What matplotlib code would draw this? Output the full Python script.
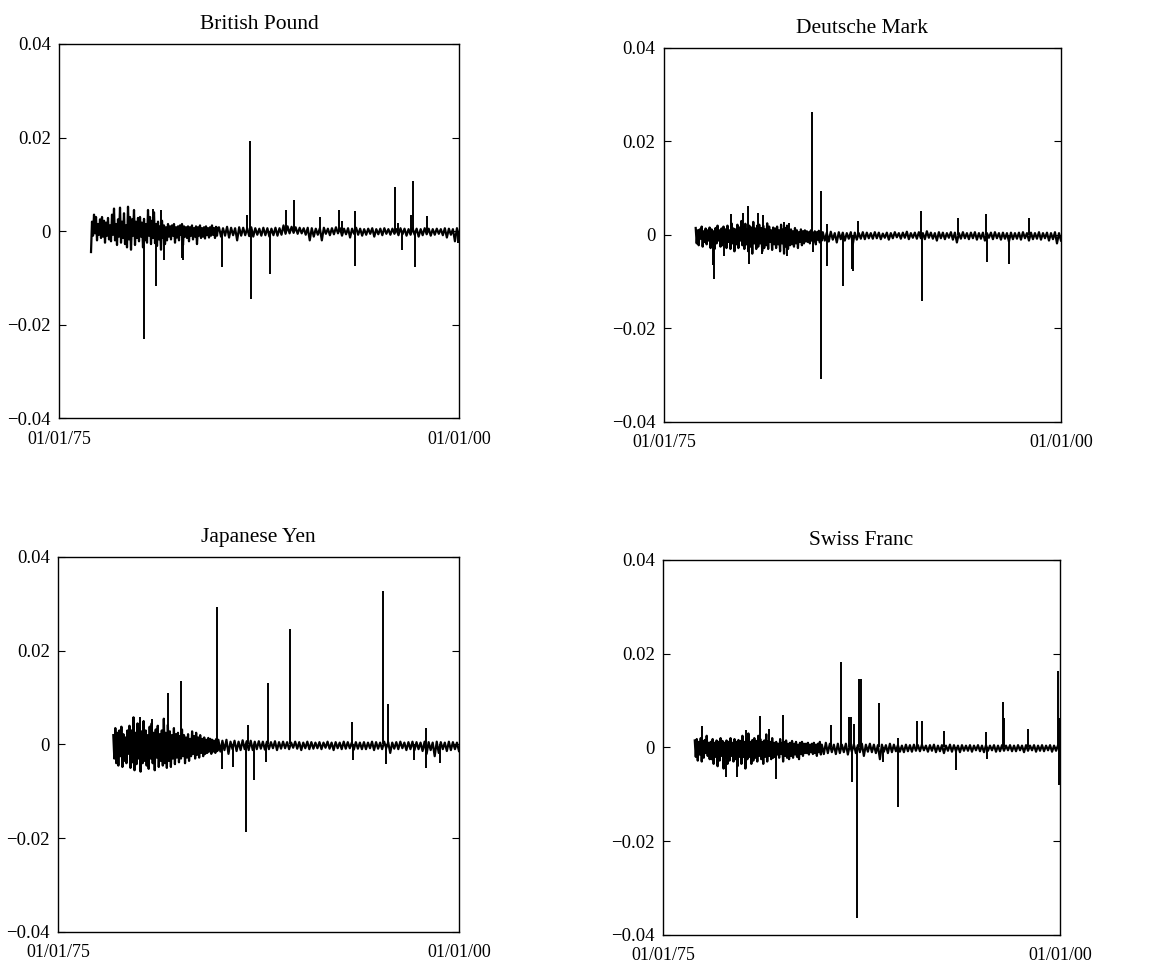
import numpy as np
import matplotlib.pyplot as plt

plt.rcParams['font.family'] = ['Liberation Serif', 'DejaVu Serif']

titles = ["British Pound", "Deutsche Mark", "Japanese Yen", "Swiss Franc"]
x_first = [1977.0, 1977.0, 1978.45, 1977.0]
x_split = 1985.0   # readings are denser before this date
x_last = 2000.0
x_ticks = [1975.0, 2000.0]
x_ticklabels = ["01/01/75", "01/01/00"]
y_ticks = [-0.04, -0.02, 0.0, 0.02, 0.04]
y_ticklabels = ["\u22120.04", "\u22120.02", "0", "0.02", "0.04"]

# returns band, units of 1e-4, evenly spaced in time
gbp_early = """
-45 20 -10 35 -5 30 -20 15 -8 25 -15 30 -12 22 -25 18
-10 28 -18 12 -22 35 -8 48 -20 15 -30 25 -12 50 -25 20
-15 38 -28 12 -35 52 -18 30 -40 25 -10 45 -30 20 -15 28
-22 30 -12 18 -35 26 -20 15 -25 45 -10 30 -28 22 -15 40
-26 15 -32 20 -18 10 -40 22 -15 12 -28 8 -20 15 -12 10
-18 12 -10 15 -25 8 -14 10 -20 12 -8 15 -30 10 -12 8
-15 10 -22 8 -10 12 -18 6 -12 10 -28 8 -10 12 -15 6
-12 8 -16 10 -9 6 -14 8 -10 12 -8 6 -15 9 -10 7
"""
gbp_late = """
8 -12 6 -10 9 -14 7 -9 6 -20 8 -10 7 -9 6 -11 8 -12 6 -8 5 -10 7 -9
6 -12 5 -9 7 -10 6 -8 12 -6 10 -5 9 -4 8 -6 7 -5 6 -8 7 -20 6 -12
5 -8 6 -20 7 -6 5 -9 6 -7 8 -5 6 -10 5 -7 6 -14 5 -6 7 -8 5 -10
4 -8 5 -6 6 -12 4 -7 5 -9 6 -6 4 -8 5 -6 4 -9 6 -7 5 -10 4 -8
6 -8 5 -12 4 -9 6 -7 5 -10 4 -8 5 -6 4 -9 6 -14 5 -8 4 -22 6 -10
"""
dem_early = """
15 -18 10 -22 12 -8 18 -25 8 -15 14 -20 10 -12 16 -28
12 -20 8 -30 15 -18 20 -12 10 -25 14 -22 18 -15 12 -28
20 -15 10 -30 25 -18 14 -35 12 -20 22 -28 16 -12 30 -22
18 -30 24 -20 12 -35 20 -25 16 -40 28 -18 14 -30 20 -25
22 -18 15 -35 20 -28 12 -22 25 -30 18 -15 10 -32 16 -20
14 -28 18 -20 10 -35 22 -18 12 -40 15 -25 20 -30 10 -22
12 -20 8 -25 15 -18 10 -28 6 -15 12 -22 8 -18 10 -14
8 -15 6 -18 10 -12 5 -14 8 -20 6 -10 9 -16 5 -12
"""
dem_late = """
6 -12 5 -14 7 -10 4 -16 6 -9 5 -12 4 -8 6 -20 5 -10 4 -8 6 -9 5 -7
4 -8 6 -7 5 -9 3 -6 5 -10 4 -7 6 -5 4 -8 5 -6 7 -9 4 -6 5 -8
6 -7 4 -9 8 -6 5 -8 4 -12 6 -7 5 -9 4 -6 6 -10 5 -16 4 -8 6 -7
4 -9 5 -7 6 -10 4 -8 5 -12 4 -6 5 -9 6 -7 4 -10 5 -8 4 -14 5 -9
4 -8 5 -10 6 -7 4 -12 5 -9 4 -8 6 -10 4 -7 5 -12 4 -9 6 -18 4 -12
"""
jpy_early = """
20 -30 35 -40 25 -45 30 -25 38 -48 22 -35 15 -40 30 -20
40 -50 30 -38 58 -55 25 -42 45 -30 35 -58 28 -40 50 -35
30 -45 20 -52 38 -30 45 -40 25 -55 32 -28 40 -48 22 -35
30 -45 55 -40 25 -50 42 -35 28 -48 20 -30 35 -42 22 -28
25 -38 18 -30 32 -25 20 -40 15 -28 22 -35 12 -25 28 -20
18 -30 25 -22 15 -28 20 -18 12 -25 15 -20 10 -18 14 -15
12 -20 10 -15 8 -18 12 -14
"""
jpy_late = """
10 -15 8 -12 10 -20 6 -10 8 -14 6 -12 9 -10 7 -12 8 -12 6 -10 7 -9 6 -11
6 -10 5 -8 7 -12 5 -9 6 -8 5 -10 4 -7 6 -9 5 -12 4 -8 6 -10 5 -9
4 -8 5 -10 4 -7 6 -9 4 -12 5 -8 4 -10 6 -9 5 -8 4 -11 5 -9 4 -10
5 -10 4 -8 6 -12 5 -9 4 -10 6 -8 5 -18 4 -9 5 -10 6 -8 4 -12 5 -10
6 -12 5 -10 4 -14 6 -20 5 -12 4 -25 6 -18 5 -10 4 -14 6 -12 5 -10 4 -14
"""
chf_early = """
15 -20 18 -28 12 -15 20 -30 14 -22 16 -12 25 -18 10 -25
12 -25 18 -35 10 -20 15 -40 12 -28 20 -18 14 -45 10 -22
15 -35 12 -28 20 -18 10 -30 18 -25 12 -40 16 -20 14 -35
25 -20 12 -45 18 -25 30 -20 12 -35 16 -28 20 -22 14 -30
25 -18 18 -25 12 -35 15 -20 28 -30 14 -18 12 -25 20 -22
10 -20 12 -15 8 -22 18 -14 10 -30 12 -18 15 -22 8 -25
10 -18 14 -22 8 -15 12 -20 6 -25 10 -14 12 -18 8 -12
8 -12 10 -15 6 -10 8 -14 10 -12 6 -18 8 -10 12 -15
"""
chf_late = """
6 -14 10 -12 8 -10 6 -14 8 -12 6 -10 8 -15 6 -9 7 -12 5 -10 8 -18 6 -9
8 -10 6 -12 5 -25 6 -9 5 -12 8 -10 6 -8 5 -9 4 -10 6 -8 5 -9 6 -7
5 -8 6 -6 4 -9 5 -7 6 -10 4 -8 5 -12 4 -7 6 -9 5 -8 4 -10 5 -7
4 -7 5 -9 4 -6 5 -8 4 -10 5 -7 4 -6 5 -9 4 -8 5 -7 4 -6 5 -8
4 -8 5 -6 4 -10 5 -7 4 -6 5 -9 4 -7 5 -8 4 -6 5 -9 4 -7 5 -8
"""

# isolated large moves: (year, return)
gbp_spikes = [(1979.5, -0.0040), (1980.30, 0.0028), (1980.33, -0.0231),
              (1980.90, 0.0048), (1981.05, -0.0117), (1981.40, 0.0045),
              (1981.55, -0.0061), (1982.70, -0.0058), (1982.78, -0.0062),
              (1985.17, -0.0078), (1986.75, 0.0034), (1986.94, 0.0193),
              (1986.98, -0.0146), (1988.19, -0.0092), (1989.17, 0.0045),
              (1989.71, 0.0066), (1991.31, 0.0031), (1992.48, 0.0046),
              (1992.70, 0.0022), (1993.48, 0.0043), (1993.52, -0.0074),
              (1996.00, 0.0094), (1996.20, 0.0018), (1996.45, -0.0040),
              (1997.00, 0.0035), (1997.10, 0.0106), (1997.25, -0.0076),
              (1997.98, 0.0032), (1999.95, -0.0025)]
dem_spikes = [(1978.10, -0.0065), (1978.17, -0.0094), (1978.80, -0.0046),
              (1979.20, 0.0044), (1979.96, 0.0047), (1980.30, 0.0063),
              (1980.38, -0.0062), (1980.94, 0.0047), (1981.15, -0.0040),
              (1981.26, 0.0043), (1982.55, 0.0027), (1982.75, -0.0044),
              (1982.90, 0.0026), (1984.32, 0.0263), (1984.40, -0.0037),
              (1984.89, 0.0095), (1984.92, -0.0309), (1985.25, 0.0024),
              (1985.28, -0.0066), (1986.27, -0.0109), (1986.86, -0.0073),
              (1986.93, -0.0076), (1987.24, 0.0029), (1991.20, 0.0051),
              (1991.28, -0.0141), (1993.50, 0.0036), (1995.28, 0.0045),
              (1995.32, -0.0057), (1996.73, -0.0062), (1998.00, 0.0037)]
jpy_spikes = [(1980.10, 0.0058), (1980.88, 0.0054), (1981.88, 0.0109),
              (1982.67, 0.0136), (1984.89, 0.0293), (1985.20, -0.0052),
              (1985.93, -0.0047), (1986.72, -0.0186), (1986.85, 0.0042),
              (1987.24, -0.0076), (1987.95, -0.0038), (1988.11, 0.0132),
              (1989.46, 0.0246), (1993.33, 0.0048), (1993.37, -0.0034),
              (1995.28, 0.0328), (1995.42, -0.0041), (1995.55, 0.0086),
              (1997.21, -0.0034), (1997.92, 0.0036), (1997.96, -0.0051),
              (1998.80, -0.0040)]
chf_spikes = [(1977.46, 0.0046), (1978.95, -0.0064), (1979.69, -0.0062),
              (1980.20, 0.0037), (1981.11, 0.0067), (1981.70, 0.0039),
              (1982.14, -0.0068), (1982.58, 0.0069), (1985.60, 0.0048),
              (1986.21, 0.0182), (1986.71, 0.0066), (1986.86, 0.0066),
              (1986.88, -0.0073), (1987.05, 0.0051), (1987.19, -0.0364),
              (1987.34, 0.0146), (1987.45, 0.0146), (1988.60, 0.0095),
              (1988.85, -0.0030), (1989.78, 0.0020), (1989.82, -0.0127),
              (1991.00, 0.0057), (1991.28, 0.0057), (1992.70, 0.0036),
              (1993.43, -0.0049), (1995.35, 0.0034), (1995.40, -0.0025),
              (1996.38, 0.0098), (1996.50, 0.0063), (1997.97, 0.0039),
              (1999.88, 0.0164), (1999.92, 0.0062), (1999.96, -0.0080)]

early = [gbp_early, dem_early, jpy_early, chf_early]
late = [gbp_late, dem_late, jpy_late, chf_late]
spikes = [gbp_spikes, dem_spikes, jpy_spikes, chf_spikes]

# axes rectangles in figure fractions (left, bottom, width, height)
rects = [(0.0507, 0.5686, 0.3436, 0.3860),
         (0.5704, 0.5645, 0.3411, 0.3860),
         (0.0498, 0.0382, 0.3445, 0.3870),
         (0.5696, 0.0351, 0.3411, 0.3870)]

fig = plt.figure(figsize=(11.64, 9.69), dpi=100)

for i in range(4):
    ax = fig.add_axes(rects[i])

    # dense band of ordinary daily moves
    v1 = np.array(early[i].split(), dtype=float) * 1e-4
    v2 = np.array(late[i].split(), dtype=float) * 1e-4
    x1 = np.linspace(x_first[i], x_split, len(v1), endpoint=False)
    x2 = np.linspace(x_split, x_last, len(v2))
    ax.plot(np.concatenate([x1, x2]), np.concatenate([v1, v2]),
            color="black", linewidth=1.6)

    # the big one-day moves as vertical strokes from zero
    sx = [s[0] for s in spikes[i]]
    sy = [s[1] for s in spikes[i]]
    ax.vlines(sx, 0, sy, color="black", linewidth=1.4)

    ax.set_xlim(1975, 2000)
    ax.set_ylim(-0.04, 0.04)
    ax.set_xticks(x_ticks)
    ax.set_xticklabels(x_ticklabels, fontsize=13)
    ax.set_yticks(y_ticks)
    ax.set_yticklabels(y_ticklabels, fontsize=13.5)
    ax.tick_params(axis="y", direction="in", length=5, width=0.8,
                   right=True, pad=6)
    ax.tick_params(axis="x", direction="in", length=0, pad=9)
    ax.set_title(titles[i], fontsize=15.5, pad=11)
    for sp in ax.spines.values():
        sp.set_linewidth(1.0)

fig.savefig("out.png", dpi=100)
